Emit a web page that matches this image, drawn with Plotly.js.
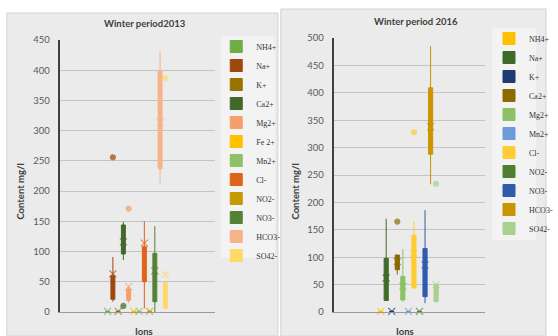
<!DOCTYPE html>
<html><head><meta charset="utf-8">
<script src="https://cdn.plot.ly/plotly-3.0.1.min.js"></script>
<style>html,body{margin:0;padding:0;background:#fff}#chart{width:558px;height:336px}</style>
</head><body><div id="chart"></div>
<script>
// ---- Winter period 2013 ----
const ions2013  = ['NH4+','Na+','K+','Ca2+','Mg2+','Fe 2+','Mn2+','Cl-','NO2-','NO3-','HCO3-','SO42-'];
const lo2013    = [0, 17, 0,  86, 15, 0, 0,   6, 0,   0, 213,  6];
const q1_2013   = [0, 21, 0,  96, 19, 0, 0,  50, 0,  17, 237,  6];
const med2013   = [0.5, 42, 0.5, 113, 27, 0.5, 0.5, 72, 0.5, 62, 283, 32];
const q3_2013   = [1, 60, 1, 144, 38, 1, 1, 108, 1,  97, 399, 49];
const hi2013    = [2, 91, 3, 149, 43, 2, 2, 150, 2, 142, 431, 49];
const mean2013  = [1, 63, 1, 116, 42, 1, 1, 114, 1,  68, 314, 62];
const out2013   = [[], [256], [], [10], [171], [], [], [], [], [], [], [387]];
const col2013   = ['#70ad47','#9e480e','#997300','#43682b','#f4a06a','#ffc000','#8cc168','#dd6418','#c59a00','#548235','#f6b38a','#ffd966'];

// ---- Winter period 2016 ----
const ions2016  = ['NH4+','Na+','K+','Ca2+','Mg2+','Mn2+','Cl-','NO2-','NO3-','HCO3-','SO42-'];
const lo2016    = [0, 20, 0, 68, 19, 0,  42, 0, 16, 233, 17];
const q1_2016   = [0, 21, 0, 77, 22, 0,  44, 0, 28, 288, 19];
const med2016   = [0.5, 52, 0.5, 95, 40, 0.5, 100, 0.5, 80, 330, 35];
const q3_2016   = [1, 98, 1, 104, 65, 1, 140, 1, 116, 409, 50];
const hi2016    = [2, 170, 3, 104, 115, 2, 165, 2, 186, 485, 52];
const mean2016  = [1, 62, 1, 92, 47, 1, 107, 1, 86, 338, 50];
const out2016   = [[], [], [], [165], [], [], [328], [], [], [], [234]];
const col2016   = ['#ffc000','#3f6b2a','#1f3a70','#8c6a00','#8cc168','#6f9bd8','#ffcd33','#4e8030','#2f5cad','#c99500','#a9d18e'];

const traces = [];
function addSet(ions, lo, q1, med, q3, hi, mean, outs, cols, xa, ya, leg) {
  ions.forEach((name, i) => {
    traces.push({
      type: 'box', name: name, x: [i], q1: [q1[i]], median: [med[i]], q3: [q3[i]],
      lowerfence: [lo[i]], upperfence: [hi[i]], xaxis: xa, yaxis: ya, legend: leg,
      width: 0.75, boxpoints: false, whiskerwidth: 0, fillcolor: cols[i],
      line: {color: cols[i], width: 1}, hoverinfo: 'skip'
    });
  });
  ions.forEach((name, i) => {
    const ys = [mean[i]].concat(outs[i]);
    traces.push({
      type: 'scatter', mode: 'markers', name: name, showlegend: false,
      x: ys.map(() => i), y: ys, xaxis: xa, yaxis: ya, cliponaxis: false,
      marker: {
        color: cols[i], size: ys.map((v, k) => k === 0 ? 7 : 5),
        symbol: ys.map((v, k) => k === 0 ? 'x-thin-open' : 'circle'),
        line: {color: cols[i], width: 1.2}
      }, hoverinfo: 'skip'
    });
  });
}
addSet(ions2013, lo2013, q1_2013, med2013, q3_2013, hi2013, mean2013, out2013, col2013, 'x', 'y', 'legend');
addSet(ions2016, lo2016, q1_2016, med2016, q3_2016, hi2016, mean2016, out2016, col2016, 'x2', 'y2', 'legend2');

const W = 558, H = 336;
const px = v => v / W, py = v => 1 - v / H;
const tickFont = {family: 'Lato, "Liberation Sans", sans-serif', size: 9.5, color: '#595959'};
const titleFont = {family: 'Lato, "Liberation Sans", sans-serif', size: 9.5, color: '#404040', weight: 'bold'};
const legFont = {family: '"Liberation Serif", "DejaVu Serif", serif', size: 8, color: '#333333'};

function yax(domain, max) {
  return {domain: domain, range: [0, max], dtick: 50, showgrid: true, gridcolor: '#c4c4c4', gridwidth: 1,
    zeroline: false, showline: true, linecolor: '#404040', linewidth: 2, ticks: '',
    tickfont: tickFont, ticklabelstandoff: 6, fixedrange: true};
}
function xax(domain, anchor, range) {
  return {domain: domain, anchor: anchor, range: range, showticklabels: false,
    showgrid: false, zeroline: false, showline: true, linecolor: '#9a9a9a', linewidth: 1, ticks: '', fixedrange: true};
}

const layout = {
  width: W, height: H, margin: {l: 0, r: 0, t: 0, b: 0},
  paper_bgcolor: '#ffffff', plot_bgcolor: 'rgba(0,0,0,0)', showlegend: true,
  boxmode: 'overlay',
  xaxis: xax([px(61), px(220)], 'y', [-9.14, 20.52]),
  yaxis: Object.assign(yax([py(312), py(40)], 450), {anchor: 'x'}),
  xaxis2: xax([px(341), px(496)], 'y2', [-8.47, 18.87]),
  yaxis2: Object.assign(yax([py(312), py(38)], 500), {anchor: 'x2'}),
  legend: {x: px(221), y: py(32), xanchor: 'left', yanchor: 'top', bgcolor: 'rgba(0,0,0,0)', borderwidth: 0,
    font: legFont, tracegroupgap: 0, itemclick: false},
  legend2: {x: px(500), y: py(24), xanchor: 'left', yanchor: 'top', bgcolor: 'rgba(0,0,0,0)', borderwidth: 0,
    font: legFont, tracegroupgap: 0, itemclick: false},
  shapes: [
    {type: 'rect', xref: 'paper', yref: 'paper', x0: px(7), x1: px(284), y0: py(336), y1: py(13),
      fillcolor: '#ebebeb', line: {color: '#d2d2d2', width: 1}, layer: 'below'},
    {type: 'rect', xref: 'paper', yref: 'paper', x0: px(287), x1: px(558), y0: py(336), y1: py(9),
      fillcolor: '#ebebeb', line: {color: '#d2d2d2', width: 1}, layer: 'below'},
    {type: 'rect', xref: 'paper', yref: 'paper', x0: px(226), x1: px(281), y0: py(258), y1: py(36),
      fillcolor: '#f3f3f3', line: {width: 0}, layer: 'below'},
    {type: 'rect', xref: 'paper', yref: 'paper', x0: px(503), x1: px(548), y0: py(240), y1: py(28),
      fillcolor: '#f3f3f3', line: {width: 0}, layer: 'below'}
  ],
  annotations: [
    {text: 'Winter period2013', xref: 'paper', yref: 'paper', x: px(148), y: py(24), xanchor: 'center', yanchor: 'middle', showarrow: false, font: titleFont},
    {text: 'Winter period 2016', xref: 'paper', yref: 'paper', x: px(425), y: py(22), xanchor: 'center', yanchor: 'middle', showarrow: false, font: titleFont},
    {text: 'Content mg/l', xref: 'paper', yref: 'paper', x: px(20), y: py(192), xanchor: 'center', yanchor: 'middle', textangle: -90, showarrow: false, font: titleFont},
    {text: 'Content mg/l', xref: 'paper', yref: 'paper', x: px(301), y: py(192), xanchor: 'center', yanchor: 'middle', textangle: -90, showarrow: false, font: titleFont},
    {text: 'Ions', xref: 'paper', yref: 'paper', x: px(147), y: py(331), xanchor: 'center', yanchor: 'middle', showarrow: false, font: titleFont},
    {text: 'Ions', xref: 'paper', yref: 'paper', x: px(414), y: py(331), xanchor: 'center', yanchor: 'middle', showarrow: false, font: titleFont}
  ]
};
Plotly.newPlot('chart', traces, layout, {displayModeBar: false, staticPlot: true});
</script></body></html>
